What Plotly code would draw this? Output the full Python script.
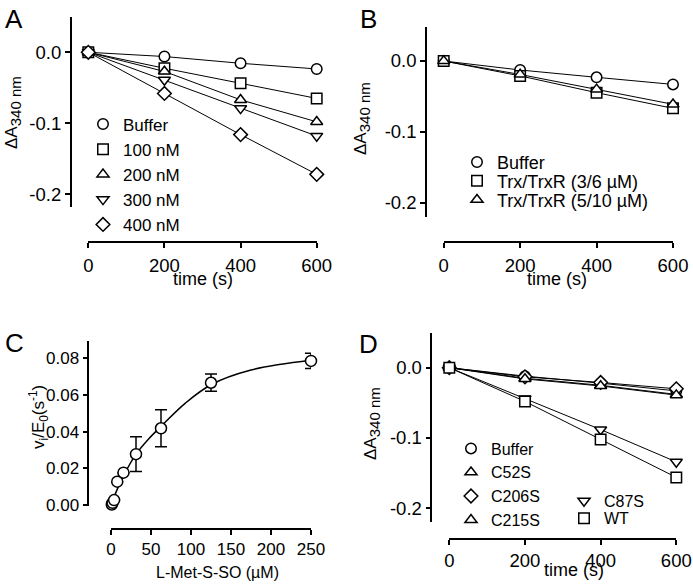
import plotly.graph_objects as go

W, H = 693, 587
FONT = "Liberation Sans, Arial, Helvetica, sans-serif"

# ---------------- data ----------------
time_s = [0, 200, 400, 600]

# Panel A
a_names = ["Buffer", "100 nM", "200 nM", "300 nM", "400 nM"]
a_buffer = [0, -0.006, -0.0155, -0.0235]
a_100nm = [0, -0.0225, -0.0437, -0.065]
a_200nm = [0, -0.027, -0.067, -0.098]
a_300nm = [0, -0.039, -0.079, -0.118]
a_400nm = [0, -0.058, -0.116, -0.172]

# Panel B
b_names = ["Buffer", "Trx/TrxR (3/6 µM)", "Trx/TrxR (5/10 µM)"]
b_buffer = [0, -0.0127, -0.023, -0.033]
b_trx_3_6 = [0, -0.021, -0.0446, -0.0667]
b_trx_5_10 = [0, -0.019, -0.040, -0.061]

# Panel C
c_conc = [0.98, 1.95, 3.9, 7.8, 15.6, 31.25, 62.5, 125, 250]
c_rate = [0.0003, 0.0012, 0.0027, 0.0127, 0.0176, 0.0277, 0.0418, 0.0666, 0.0785]
c_err = [0, 0, 0, 0, 0, 0.0095, 0.0101, 0.0047, 0.0041]
c_fit_x = [0, 8, 16, 31.25, 47, 62.5, 93, 125, 175, 250]
c_fit_y = [0, 0.0088, 0.0162, 0.0277, 0.0360, 0.0428, 0.0555, 0.0655, 0.0735, 0.0788]

# Panel D
d_names = ["Buffer", "C52S", "C206S", "C215S", "C87S", "WT"]
d_buffer = [0, -0.012, -0.022, -0.033]
d_c52s = [0, -0.015, -0.025, -0.038]
d_c206s = [0, -0.013, -0.021, -0.030]
d_c215s = [0, -0.016, -0.026, -0.039]
d_c87s = [0, -0.044, -0.088, -0.134]
d_wt = [0, -0.048, -0.102, -0.156]

# ---------------- helpers ----------------
def fx(p):
    return p / W


def fy(p):
    return 1 - p / H


MK = 10.5
fig = go.Figure()
line_traces = []
marker_traces = []


def series(x, y, name, symbol, xa, ya, legend):
    line_traces.append(go.Scatter(
        x=x, y=y, mode="lines", xaxis=xa, yaxis=ya, showlegend=False, hoverinfo="skip",
        line=dict(color="black", width=1), cliponaxis=False))
    marker_traces.append(go.Scatter(
        x=x, y=y, name=name, mode="markers", xaxis=xa, yaxis=ya, legend=legend,
        marker=dict(symbol=symbol, size=MK, color="white", line=dict(color="black", width=1.5)),
        cliponaxis=False))


# Panel A
for name, ys, sym in zip(a_names, [a_buffer, a_100nm, a_200nm, a_300nm, a_400nm],
                         ["circle", "square", "triangle-up", "triangle-down", "diamond"]):
    series(time_s, ys, name, sym, "x", "y", "legend")

# Panel B
for i, (name, ys, sym) in enumerate(zip(b_names, [b_buffer, b_trx_3_6, b_trx_5_10],
                                        ["circle", "square", "triangle-up"])):
    series(time_s, ys, name, sym, "x2", "y2", "legend%d" % (2 + i))

# Panel D
d_syms = ["circle", "triangle-up", "diamond", "triangle-up", "triangle-down", "square"]
d_data = [d_buffer, d_c52s, d_c206s, d_c215s, d_c87s, d_wt]
d_leg = ["legend5", "legend5", "legend5", "legend5", "legend6", "legend7"]
for name, ys, sym, lg in zip(d_names, d_data, d_syms, d_leg):
    series(time_s, ys, name, sym, "x4", "y4", lg)

for t in line_traces:
    fig.add_trace(t)
for t in marker_traces:
    fig.add_trace(t)

# Panel C
fig.add_trace(go.Scatter(x=c_fit_x, y=c_fit_y, mode="lines", line=dict(color="black", width=1.5, shape="spline"),
                         xaxis="x3", yaxis="y3", showlegend=False, cliponaxis=False))
fig.add_trace(go.Scatter(x=c_conc, y=c_rate, mode="markers", xaxis="x3", yaxis="y3", showlegend=False,
                         marker=dict(symbol="circle", size=11, color="white", line=dict(color="black", width=1.5)),
                         error_y=dict(type="data", array=c_err, visible=True, color="black", thickness=1.5, width=6),
                         cliponaxis=False))

tickfont = dict(family=FONT, size=18.5, color="black")
axbase = dict(showline=True, linecolor="black", linewidth=1.5, ticks="outside", ticklen=5,
              tickwidth=1.5, tickcolor="black", showgrid=False, zeroline=False,
              tickfont=tickfont, anchor="free", fixedrange=True, automargin=False)

ytv = [0, -0.1, -0.2]
ytt = ["0.0", "-0.1", "-0.2"]
cfont = dict(family=FONT, size=17, color="black")

layout = dict(
    width=W, height=H, autosize=False,
    margin=dict(l=0, r=0, t=0, b=0, pad=0, autoexpand=False),
    paper_bgcolor="white", plot_bgcolor="white",
    font=dict(family=FONT, size=17, color="black"),
    # Panel A
    xaxis=dict(axbase, domain=[fx(88.3), fx(316.7)], range=[0, 600], position=fy(242.3),
               tickvals=[0, 200, 400, 600], ticklabelstandoff=2),
    yaxis=dict(axbase, domain=[fy(207), fy(17)], range=[-0.218, 0.0497], position=fx(70.7),
               tickvals=ytv, ticktext=ytt),
    # Panel B
    xaxis2=dict(axbase, domain=[fx(443.7), fx(673)], range=[0, 600], position=fy(242.3),
                tickvals=[0, 200, 400, 600], ticklabelstandoff=2),
    yaxis2=dict(axbase, domain=[fy(216.7), fy(26.7)], range=[-0.2193, 0.0483], position=fx(426),
                tickvals=ytv, ticktext=ytt),
    # Panel C
    xaxis3=dict(axbase, domain=[fx(111), fx(311)], range=[0, 250], position=fy(529.3),
                tickvals=[0, 50, 100, 150, 200, 250], tickfont=cfont),
    yaxis3=dict(axbase, domain=[fy(506), fy(340.7)], range=[-0.00054, 0.0895], position=fx(88.3),
                tickvals=[0, 0.02, 0.04, 0.06, 0.08],
                ticktext=["0.00", "0.02", "0.04", "0.06", "0.08"], tickfont=cfont),
    # Panel D
    xaxis4=dict(axbase, domain=[fx(449.3), fx(676.3)], range=[0, 600], position=fy(539.3),
                tickvals=[0, 200, 400, 600]),
    yaxis4=dict(axbase, domain=[fy(521.7), fy(333.3)], range=[-0.219, 0.0489], position=fx(431.3),
                tickvals=ytv, ticktext=ytt),
)

legbase = dict(bgcolor="rgba(0,0,0,0)", borderwidth=0, xanchor="left", yanchor="middle",
               font=dict(family=FONT, size=17, color="black"), itemclick=False, itemdoubleclick=False)
layout["legend"] = dict(legbase, x=fx(83), y=fy(174.5), traceorder="normal")
b_leg_y = [162.3, 181, 200]
for i, yy in enumerate(b_leg_y):
    layout["legend%d" % (2 + i)] = dict(legbase, x=fx(457), y=fy(yy), font=dict(family=FONT, size=18, color="black"))
layout["legend5"] = dict(legbase, x=fx(451), y=fy(484.5), traceorder="normal",
                         font=dict(family=FONT, size=16, color="black"))
layout["legend6"] = dict(legbase, x=fx(564), y=fy(501), font=dict(family=FONT, size=16, color="black"))
layout["legend7"] = dict(legbase, x=fx(564), y=fy(518.3), font=dict(family=FONT, size=16, color="black"))

fig.update_layout(**layout)

ann = []


def label(text, x, y, size=18, angle=0, yanchor="middle"):
    ann.append(dict(text=text, x=fx(x), y=fy(y), xref="paper", yref="paper", showarrow=False,
                    xanchor="center", yanchor=yanchor, textangle=angle,
                    font=dict(family=FONT, size=size, color="black")))


# panel letters
label("A", 14, 2, size=26, yanchor="top")
label("B", 369, 2, size=26, yanchor="top")
label("C", 14, 326, size=26, yanchor="top")
label("D", 369, 327, size=26, yanchor="top")
# x titles
label("time (s)", 203, 279)
label("time (s)", 557, 279)
label("L-Met-S-SO (µM)", 217, 572, size=16)
label("time (s)", 574, 570)
# y titles
ytitle = "ΔA<sub><span style='font-size:15px'>340 nm</span></sub>"
label(ytitle, 13, 113, size=17, angle=-90)
label(ytitle, 362, 119, size=17, angle=-90)
label("v<sub>i</sub>/E<sub>0</sub>(s<sup>-1</sup>)", 38, 417, size=17, angle=-90)
label(ytitle, 372, 424, size=17, angle=-90)

fig.update_layout(annotations=ann)
fig.write_html("out.html",
               config={"displayModeBar": False, "responsive": False},
               post_script="document.body.style.margin='0px';document.body.style.overflow='hidden';")
